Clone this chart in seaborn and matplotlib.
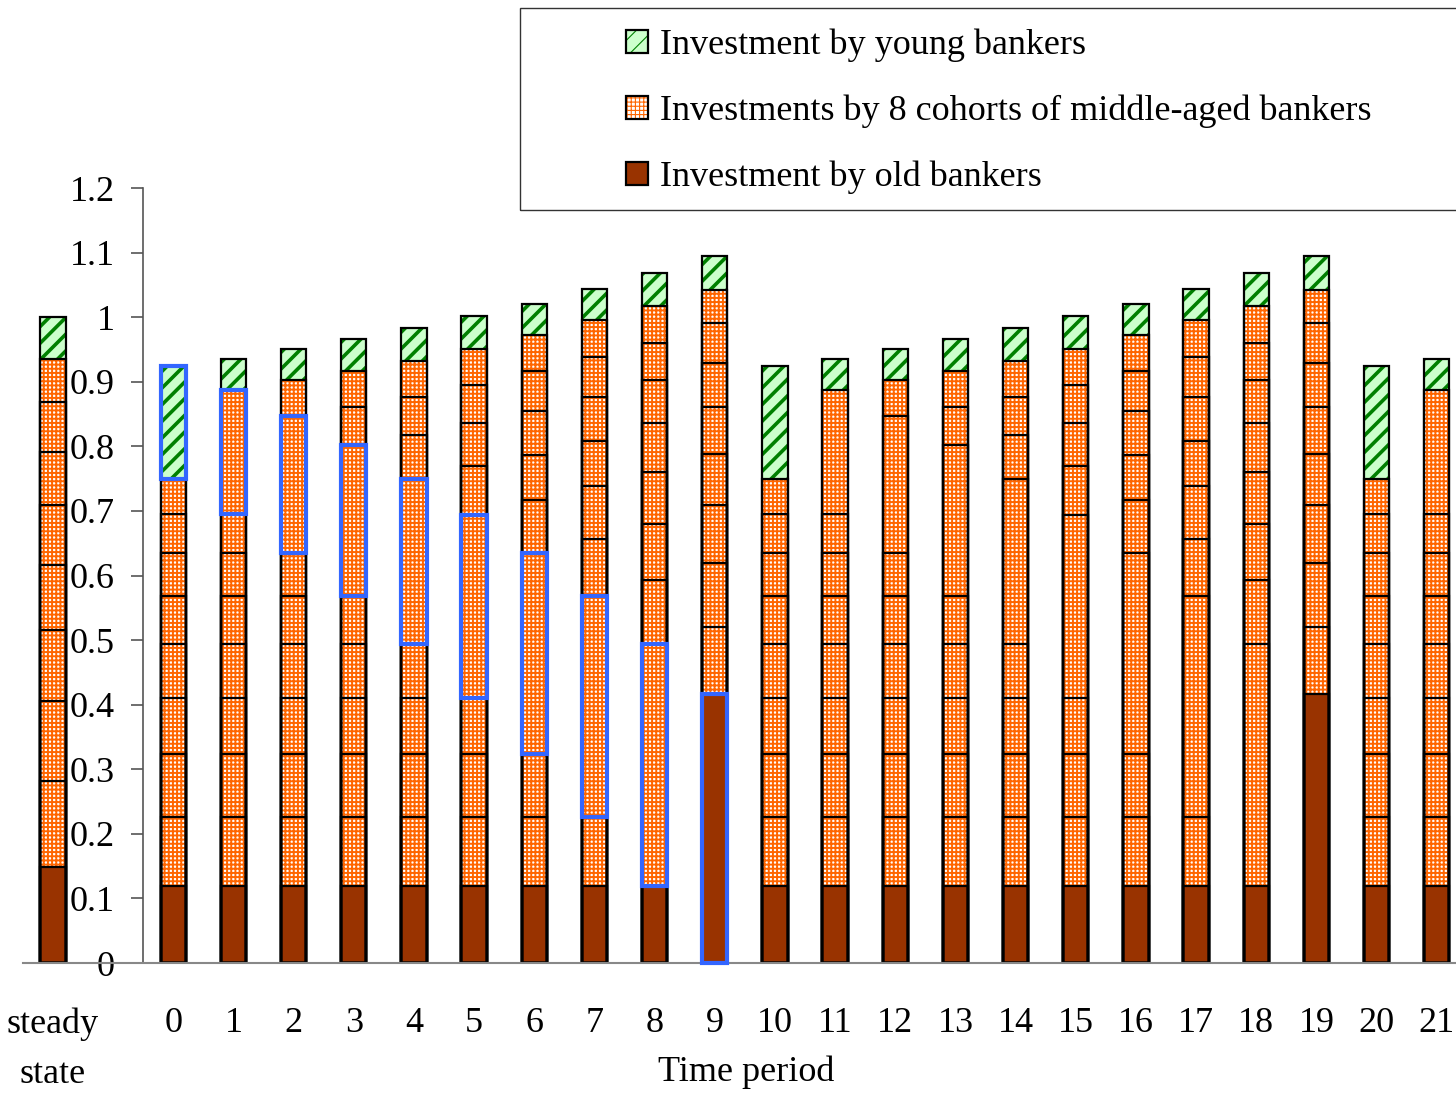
import numpy as np
import matplotlib
matplotlib.use("Agg")
import matplotlib.pyplot as plt
from matplotlib.patches import Patch, Rectangle
import seaborn as sns

# x categories: steady state, then time periods 0..21
periods = ["steady\nstate", "0", "1", "2", "3", "4", "5", "6", "7", "8", "9",
           "10", "11", "12", "13", "14", "15", "16", "17", "18", "19", "20", "21"]
# slot order on the axis (a blank slot between steady state and period 0)
order = ["steady\nstate", " ", "0", "1", "2", "3", "4", "5", "6", "7", "8", "9",
         "10", "11", "12", "13", "14", "15", "16", "17", "18", "19", "20", "21"]

# segment heights, bottom (old) to top (young)
old = [0.149, 0.119, 0.119, 0.119, 0.119, 0.119, 0.119, 0.119, 0.119, 0.119, 0.416,
       0.119, 0.119, 0.119, 0.119, 0.119, 0.119, 0.119, 0.119, 0.119, 0.416, 0.119, 0.119]
mid_1 = [0.133, 0.107, 0.107, 0.107, 0.107, 0.107, 0.107, 0.107, 0.107, 0.375, 0.104,
         0.107, 0.107, 0.107, 0.107, 0.107, 0.107, 0.107, 0.107, 0.375, 0.104, 0.107, 0.107]
mid_2 = [0.123, 0.097, 0.097, 0.097, 0.097, 0.097, 0.097, 0.097, 0.342, 0.099, 0.100,
         0.097, 0.097, 0.097, 0.097, 0.097, 0.097, 0.097, 0.342, 0.099, 0.100, 0.097, 0.097]
mid_3 = [0.111, 0.088, 0.088, 0.088, 0.088, 0.088, 0.088, 0.312, 0.089, 0.087, 0.089,
         0.088, 0.088, 0.088, 0.088, 0.088, 0.088, 0.312, 0.089, 0.087, 0.089, 0.088, 0.088]
mid_4 = [0.100, 0.083, 0.083, 0.083, 0.083, 0.083, 0.283, 0.082, 0.082, 0.081, 0.079,
         0.083, 0.083, 0.083, 0.083, 0.083, 0.283, 0.082, 0.082, 0.081, 0.079, 0.083, 0.083]
mid_5 = [0.093, 0.074, 0.074, 0.074, 0.074, 0.256, 0.075, 0.070, 0.070, 0.075, 0.073,
         0.074, 0.074, 0.074, 0.074, 0.256, 0.075, 0.070, 0.070, 0.075, 0.073, 0.074, 0.074]
mid_6 = [0.082, 0.067, 0.067, 0.067, 0.234, 0.067, 0.067, 0.067, 0.068, 0.066, 0.068,
         0.067, 0.067, 0.067, 0.234, 0.067, 0.067, 0.067, 0.068, 0.066, 0.068, 0.067, 0.067]
mid_7 = [0.077, 0.060, 0.060, 0.212, 0.059, 0.060, 0.059, 0.063, 0.062, 0.058, 0.062,
         0.060, 0.060, 0.212, 0.059, 0.060, 0.059, 0.063, 0.062, 0.058, 0.062, 0.060, 0.060]
mid_8 = [0.067, 0.055, 0.192, 0.055, 0.056, 0.055, 0.055, 0.056, 0.056, 0.057, 0.051,
         0.055, 0.192, 0.055, 0.056, 0.055, 0.055, 0.056, 0.056, 0.057, 0.051, 0.055, 0.192]
young = [0.065, 0.175, 0.049, 0.049, 0.049, 0.052, 0.052, 0.048, 0.048, 0.052, 0.053,
         0.175, 0.049, 0.049, 0.049, 0.052, 0.052, 0.048, 0.048, 0.052, 0.053, 0.175, 0.049]

# the cohort born in period 0, followed through its life (blue boxes)
highlight_periods = ["0", "1", "2", "3", "4", "5", "6", "7", "8", "9"]
highlight_layers = ["young", "mid_8", "mid_7", "mid_6", "mid_5",
                    "mid_4", "mid_3", "mid_2", "mid_1", "old"]

yticks = [0, 0.1, 0.2, 0.3, 0.4, 0.5, 0.6, 0.7, 0.8, 0.9, 1.0, 1.1, 1.2]
ytick_labels = ["0", "0.1", "0.2", "0.3", "0.4", "0.5", "0.6", "0.7", "0.8", "0.9", "1", "1.1", "1.2"]

legend_labels = ["Investment by young bankers",
                 "Investments by 8 cohorts of middle-aged bankers",
                 "Investment by old bankers"]

names = ["old", "mid_1", "mid_2", "mid_3", "mid_4", "mid_5", "mid_6", "mid_7", "mid_8", "young"]
values = np.array([old, mid_1, mid_2, mid_3, mid_4, mid_5, mid_6, mid_7, mid_8, young])
tops = np.cumsum(values, axis=0)

OLD = dict(face="#993300", hatch=None, hcol="#993300", hlw=1.0)
MID = dict(face="white", hatch="++++", hcol="#FF6600", hlw=1.4)
YOUNG = dict(face="#CCFFCC", hatch="//", hcol="#008000", hlw=2.6)
styles = [OLD] + [MID] * 8 + [YOUNG]

sns.set_style("white")
plt.rcParams["font.family"] = ["Liberation Serif", "DejaVu Serif"]
FS = 26

fig = plt.figure(figsize=(14.56, 10.93), dpi=100)
ax = fig.add_axes([22.9 / 1456, 130 / 1093, 1433.1 / 1456, 775 / 1093])

W = 0.42
# fills: draw cumulative heights from the top layer down
for k in reversed(range(len(names))):
    st = styles[k]
    plt.rcParams["hatch.linewidth"] = st["hlw"]
    sns.barplot(x=periods, y=tops[k], order=order, color=st["face"], saturation=1,
                hatch=st["hatch"], edgecolor=st["hcol"], linewidth=0, width=W,
                errorbar=None, ax=ax)
# black outlines for every segment
for k in range(len(names)):
    sns.barplot(x=periods, y=tops[k], order=order, fill=False, color="black",
                linewidth=1.6, width=W, errorbar=None, ax=ax)

# blue boxes
for per, lay in zip(highlight_periods, highlight_layers):
    i = order.index(per)
    j = periods.index(per)
    k = names.index(lay)
    ax.bar(i, values[k][j], bottom=tops[k][j] - values[k][j], width=W, fill=False,
           edgecolor="#3366FF", linewidth=3, zorder=5, clip_on=False)

ax.set_xlim(-0.5, 23.32)
ax.set_ylim(0, 1.2)
ax.set_yticks(yticks)
ax.set_yticklabels(ytick_labels)
sns.despine(ax=ax)
ax.spines["left"].set_position(("data", 1.5))
ax.spines["left"].set_color("#555555")
ax.spines["left"].set_linewidth(1.2)
ax.spines["bottom"].set_color("#888888")
ax.spines["bottom"].set_linewidth(1.5)
ax.tick_params(axis="y", direction="out", length=8.5, width=1.2, color="#555555",
               pad=12, labelsize=FS, labelcolor="black", left=True)
ax.tick_params(axis="x", length=0, pad=32, labelsize=FS, labelcolor="black")
for lbl in ax.get_xticklabels():
    if "steady" in lbl.get_text():
        lbl.set_linespacing(1.7)
        lbl.set_x(0.07)

ax.set_ylabel("")
ax.set_xlabel("Time period", fontsize=FS, va="center", color="black")
ax.xaxis.set_label_coords(0.505, -0.1406)

# legend
def handle(st):
    plt.rcParams["hatch.linewidth"] = st["hlw"] * 0.8
    fill = Patch(facecolor=st["face"], hatch=st["hatch"], edgecolor=st["hcol"], linewidth=0)
    edge = Patch(facecolor="none", edgecolor="black", linewidth=1.6)
    return (fill, edge)

fig.legend([handle(YOUNG), handle(MID), handle(OLD)], legend_labels,
           loc="upper left", bbox_to_anchor=(626 / 1456, 1 - 29 / 1093),
           frameon=False, fontsize=FS, handlelength=0.6, handleheight=0.6,
           handletextpad=0.35, labelspacing=0.9, borderpad=0, borderaxespad=0,
           labelcolor="black")
fig.add_artist(Rectangle((520 / 1456, 1 - 210 / 1093), 1.0, 202 / 1093,
                         transform=fig.transFigure, fill=False,
                         edgecolor="#333333", linewidth=1))

fig.savefig("out.png", dpi=100)
